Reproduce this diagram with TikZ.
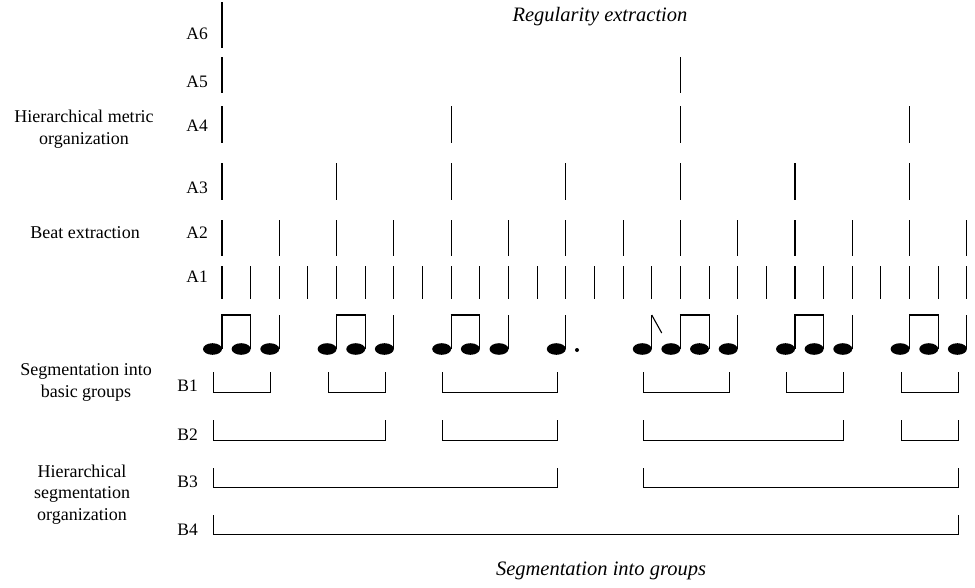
\documentclass[tikz,border=0pt]{standalone}
\usepackage{fontspec}
\setmainfont{Liberation Serif}
\begin{document}
\begin{tikzpicture}[x=1pt,y=-1pt,
  tick/.style={line width=1.05pt},
  grp/.style={line width=0.9pt},
  stem/.style={line width=1.1pt},
  lbl/.style={font=\fontsize{17.5}{20}\selectfont, inner sep=0pt},
  side/.style={font=\fontsize{18}{21.5}\selectfont, align=center, inner sep=0pt},
  ttl/.style={font=\fontsize{20.5}{24}\selectfont\itshape, inner sep=0pt}]
\useasboundingbox (0,0) rectangle (975,587);
% horizontal position of pulse i
\newcommand{\px}[1]{222+28.65*(#1)}

% titles
\node[ttl, anchor=base] (reg) at (600,21) {Regularity extraction};
\node[ttl, anchor=base] (seg) at (601,575) {Segmentation into groups};

% side descriptions (anchored at the baseline of their last line)
\node[side, anchor=base] (hmo) at (84,144) {Hierarchical metric\\organization};
\node[side, anchor=base] (beat) at (85,238) {Beat extraction};
\node[side, anchor=base] (sbg) at (86,397) {Segmentation into\\basic groups};
\node[side, anchor=base] (hso) at (82,520) {Hierarchical\\segmentation\\organization};

% metric levels
\node[lbl, anchor=base east] (a6) at (208,39) {A6};
\node[lbl, anchor=base east] (a5) at (208,87) {A5};
\node[lbl, anchor=base east] (a4) at (208,131) {A4};
\node[lbl, anchor=base east] (a3) at (208,193) {A3};
\node[lbl, anchor=base east] (a2) at (208,238) {A2};
\node[lbl, anchor=base east] (a1) at (208,282) {A1};

% grouping levels
\node[lbl, anchor=base east] (b1) at (198,391) {B1};
\node[lbl, anchor=base east] (b2) at (198,440) {B2};
\node[lbl, anchor=base east] (b3) at (198,487) {B3};
\node[lbl, anchor=base east] (b4) at (198,535) {B4};

% pulse ticks
\foreach \i in {0,...,26}
  \draw[tick] ({\px{\i}},266) -- ({\px{\i}},299);
\foreach \i in {0,2,...,26}
  \draw[tick] ({\px{\i}},220) -- ({\px{\i}},256);
\foreach \i in {0,4,...,24}
  \draw[tick] ({\px{\i}},163) -- ({\px{\i}},200);
\foreach \i in {0,8,16,24}
  \draw[tick] ({\px{\i}},106) -- ({\px{\i}},143);
\foreach \i in {0,16}
  \draw[tick] ({\px{\i}},57) -- ({\px{\i}},93);
\draw[tick] ({\px{0}},2) -- ({\px{0}},48);

% rhythm: note heads and stems
\foreach \i in {0,1,2,4,5,6,8,9,10,12,15,16,17,18,20,21,22,24,25,26} {
  \fill ({\px{\i}-9.5},349) ellipse [x radius=9.5pt, y radius=5.8pt];
  \draw[stem] ({\px{\i}},349) -- ({\px{\i}},315);
}
% beams joining eighth-note pairs
\foreach \i in {0,4,8,16,20,24}
  \draw[line width=1.3pt] ({\px{\i}-0.55},315) -- ({\px{\i+1}+0.55},315);
% single eighth-note flag
\draw[line width=1.1pt] ({\px{15}},315) -- ({\px{15}+10},333);
% augmentation dot
\fill (577,350) circle [radius=2pt];

% grouping brackets
\foreach \a/\b/\t/\u in {0/2/372/392, 4/6/372/392, 8/12/372/392,
    15/18/372/392, 20/22/372/392, 24/26/372/392,
    0/6/420/440, 8/12/420/440, 15/22/420/440, 24/26/420/440,
    0/12/468/487, 15/26/468/487,
    0/26/515/534}
  \draw[grp] ({\px{\a}-8.5},\t) |- ({\px{\b}-8.5},\u) -- ({\px{\b}-8.5},\t);
\end{tikzpicture}
\end{document}
